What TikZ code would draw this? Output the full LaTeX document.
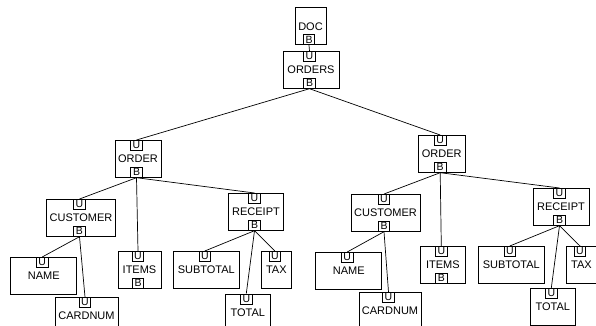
\documentclass[tikz,border=0pt]{standalone}
\usepackage{fontspec}
\setmainfont{Liberation Sans}
\tikzset{
  elem/.style={draw, line width=0.7pt, minimum height=37pt, inner sep=0pt, anchor=north, font=\fontsize{11}{13}\selectfont},
  tagbox/.style={draw, line width=0.7pt, minimum width=11.5pt, minimum height=10pt, inner sep=0pt, font=\fontsize{10.5}{10.5}\selectfont},
  edge/.style={line width=0.7pt}
}
\newcommand{\elbox}[5]{\node[elem, minimum width=#4pt] (#1) at (#2,#3) {#5};}
\newcommand{\tagU}[1]{\node[tagbox, anchor=north] (#1U) at ([xshift=-1.5pt]#1.north) {U};}
\newcommand{\tagB}[1]{\node[tagbox, anchor=south] (#1B) at ([xshift=-1.5pt]#1.south) {B};}
\begin{document}
\begin{tikzpicture}[x=1pt,y=-1pt]
\useasboundingbox (0,0) rectangle (596,326);
\fill[white] (0,0) rectangle (596,326);
\clip (0,0) rectangle (596,326);
% top
\elbox{doc}{310.5}{7.5}{31}{DOC} \tagB{doc}
\elbox{orders}{311}{51}{56}{ORDERS} \tagU{orders} \tagB{orders}
% left subtree
\elbox{Lorder}{138}{140}{46}{ORDER} \tagU{Lorder} \tagB{Lorder}
\elbox{Lcust}{81}{199}{68.6}{CUSTOMER} \tagU{Lcust} \tagB{Lcust}
\elbox{Lname}{43.7}{257}{66}{NAME} \tagU{Lname}
\elbox{Lcard}{86.5}{297}{63}{CARDNUM} \tagU{Lcard}
\elbox{Litems}{139.5}{251}{43}{ITEMS} \tagU{Litems} \tagB{Litems}
\elbox{Lrec}{256}{193}{55.4}{RECEIPT} \tagU{Lrec} \tagB{Lrec}
\elbox{Lsub}{206.3}{251}{66}{SUBTOTAL} \tagU{Lsub}
\elbox{Ltax}{276.3}{251}{30.7}{TAX} \tagU{Ltax}
\elbox{Ltot}{247.8}{293.5}{44.3}{TOTAL} \tagU{Ltot}
% right subtree
\elbox{Rorder}{441.7}{135}{46.7}{ORDER} \tagU{Rorder} \tagB{Rorder}
\elbox{Rcust}{385.5}{194}{69}{CUSTOMER} \tagU{Rcust} \tagB{Rcust}
\elbox{Rname}{348.7}{252}{66}{NAME} \tagU{Rname}
\elbox{Rcard}{390}{292}{62}{CARDNUM} \tagU{Rcard}
\elbox{Ritems}{442.8}{246}{44.3}{ITEMS} \tagU{Ritems} \tagB{Ritems}
\elbox{Rrec}{561}{188}{55.7}{RECEIPT} \tagU{Rrec} \tagB{Rrec}
\elbox{Rsub}{511.3}{246}{66}{SUBTOTAL} \tagU{Rsub}
\elbox{Rtax}{581.5}{246}{31}{TAX} \tagU{Rtax}
\elbox{Rtot}{552.8}{288}{44.3}{TOTAL} \tagU{Rtot}
% edges
\draw[edge] (docB.south) -- (ordersU.north);
\draw[edge] (ordersB.south) -- (LorderU.north);
\draw[edge] (ordersB.south) -- (RorderU.north);
\draw[edge] (LorderB.south) -- (LcustU.north);
\draw[edge] (LorderB.south) -- (LitemsU.north);
\draw[edge] (LorderB.south) -- (LrecU.north);
\draw[edge] (LcustB.south) -- (LnameU.north);
\draw[edge] (LcustB.south) -- (LcardU.north);
\draw[edge] (LrecB.south) -- (LsubU.north);
\draw[edge] (LrecB.south) -- (LtotU.north);
\draw[edge] (LrecB.south) -- (LtaxU.north);
\draw[edge] (RorderB.south) -- (RcustU.north);
\draw[edge] (RorderB.south) -- (RitemsU.north);
\draw[edge] (RorderB.south) -- (RrecU.north);
\draw[edge] (RcustB.south) -- (RnameU.north);
\draw[edge] (RcustB.south) -- (RcardU.north);
\draw[edge] (RrecB.south) -- (RsubU.north);
\draw[edge] (RrecB.south) -- (RtotU.north);
\draw[edge] (RrecB.south) -- (RtaxU.north);
\end{tikzpicture}
\end{document}
